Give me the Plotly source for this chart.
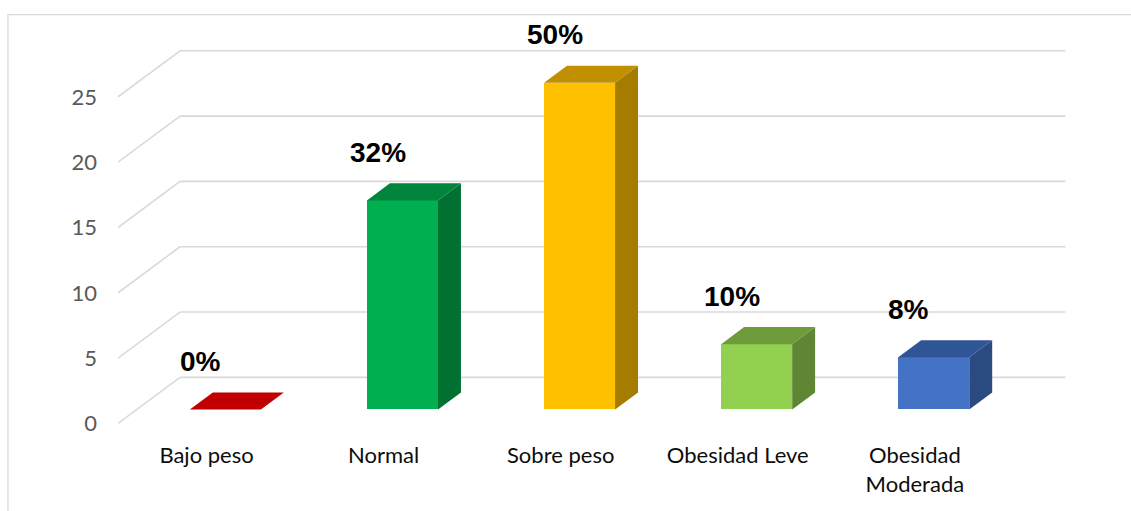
import plotly.graph_objects as go

# --- data ---
categorias = ["Bajo peso", "Normal", "Sobre peso", "Obesidad Leve", "Obesidad Moderada"]
etiquetas_eje = ["Bajo peso", "Normal", "Sobre peso", "Obesidad Leve", "Obesidad<br>Moderada"]
valores = [0, 16, 25, 5, 4]
ticks_y = [0, 5, 10, 15, 20, 25]

color_frente = ["#C00000", "#00B050", "#FFC000", "#92D050", "#4472C4"]
color_tapa = ["#C00000", "#00853D", "#C09000", "#6E9B3C", "#2F5597"]
color_lado = ["#9A0000", "#007130", "#A57C00", "#5E8633", "#2B4A80"]

# --- oblique 3D projection (data units) ---
PX_X = 177.0          # pixels per category
PX_Y = 13.04          # pixels per value unit
DX = 62.0 / PX_X      # horizontal shift of the full floor depth
DY = 46.0 / PX_Y      # vertical shift of the full floor depth
D_FRENTE, D_FONDO = 0.304, 0.674   # depth of bar front / back faces
ANCHO = 71.0 / PX_X

W, H = 1131, 511
ML = 118
y_rng = [-0.5, 30.5]
x_rng = [-0.5, 4.5 + DX + 0.15]
MB = H - (423 + 0.5 * PX_Y)
MT = H - MB - (y_rng[1] - y_rng[0]) * PX_Y
MR = W - ML - (x_rng[1] - x_rng[0]) * PX_X

total = sum(valores)
porcentajes = [f"{round(v / total * 100)}%" for v in valores]

fig = go.Figure()

# front faces
base = D_FRENTE * DY
xs_frente = [i + D_FRENTE * DX for i in range(len(valores))]
fig.add_trace(go.Bar(
    x=xs_frente, y=valores, base=[base] * len(valores), width=ANCHO,
    marker=dict(color=color_frente, line=dict(width=0)),
    hoverinfo="skip", showlegend=False,
))

ddx = (D_FONDO - D_FRENTE) * DX
ddy = (D_FONDO - D_FRENTE) * DY
for i, v in enumerate(valores):
    xl = xs_frente[i] - ANCHO / 2
    xr = xs_frente[i] + ANCHO / 2
    top = base + v
    # right side face
    if v > 0:
        fig.add_trace(go.Scatter(
            x=[xr, xr, xr + ddx, xr + ddx, xr],
            y=[base, top, top + ddy, base + ddy, base],
            mode="lines", fill="toself", fillcolor=color_lado[i],
            line=dict(width=0), hoverinfo="skip", showlegend=False,
        ))
    # top face
    fig.add_trace(go.Scatter(
        x=[xl, xr, xr + ddx, xl + ddx, xl],
        y=[top, top, top + ddy, top + ddy, top],
        mode="lines", fill="toself", fillcolor=color_tapa[i],
        line=dict(width=0), hoverinfo="skip", showlegend=False,
    ))

# back-wall and side-wall gridlines
grid = dict(color="#D9D9D9", width=1.6)
shapes = []
for t in ticks_y:
    shapes.append(dict(type="line", xref="x", yref="y", layer="below",
                       x0=-0.5, y0=t, x1=-0.5 + DX, y1=t + DY, line=grid))
    shapes.append(dict(type="line", xref="x", yref="y", layer="below",
                       x0=-0.5 + DX, y0=t + DY, x1=4.5 + DX, y1=t + DY, line=grid))

# chart border
pw = W - ML - MR
ph = H - MT - MB
shapes.append(dict(type="rect", xref="paper", yref="paper", layer="below",
                   x0=(8 - ML) / pw, x1=(W + 20 - ML) / pw,
                   y0=(H - MB - (H + 20)) / ph, y1=(H - MB - 15) / ph,
                   line=dict(color="#D9D9D9", width=1.3), fillcolor="rgba(0,0,0,0)"))

annotations = []
for i, (v, p) in enumerate(zip(valores, porcentajes)):
    annotations.append(dict(
        x=i, y=v, xref="x", yref="y", text=f"<b>{p}</b>", showarrow=False,
        xanchor="center", yanchor="middle", yshift=62, xshift=-6,
        font=dict(family="Liberation Sans, Arial, sans-serif", size=28, color="#000000"),
    ))

fig.update_layout(
    width=W, height=H,
    margin=dict(l=ML, r=MR, t=MT, b=MB, pad=0),
    paper_bgcolor="white", plot_bgcolor="white",
    shapes=shapes, annotations=annotations,
    bargap=0,
    xaxis=dict(range=x_rng, tickvals=list(range(len(categorias))), ticktext=etiquetas_eje,
               showgrid=False, zeroline=False, showline=False, ticks="",
               ticklabelstandoff=10,
               tickfont=dict(family="Lato, sans-serif", size=22, color="#0D0D0D")),
    yaxis=dict(range=y_rng, tickvals=ticks_y, ticktext=[str(t) for t in ticks_y],
               showgrid=False, zeroline=False, showline=False, ticks="",
               ticklabelstandoff=20,
               tickfont=dict(family="Lato, sans-serif", size=22, color="#595959")),
)

fig.write_html("out.html")
